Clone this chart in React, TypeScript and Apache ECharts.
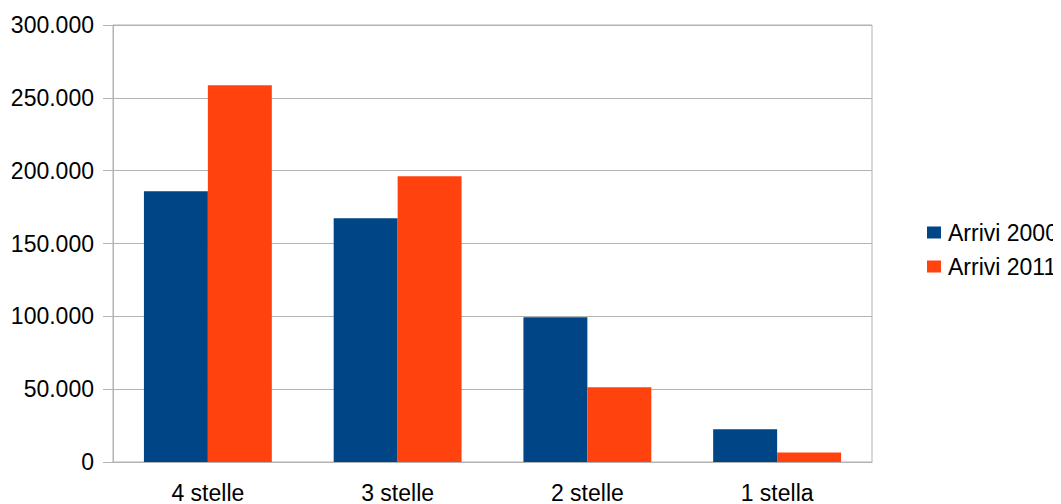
import React, { useEffect, useRef } from "react";
import * as echarts from "echarts";

const categories = ["4 stelle", "3 stelle", "2 stelle", "1 stella"];
const arrivi2000 = [185800, 167300, 99300, 22400];
const arrivi2011 = [258600, 196100, 51300, 6600];
const seriesNames = ["Arrivi 2000", "Arrivi 2011"];

const fmt = (v: number) =>
  String(Math.round(v)).replace(/\B(?=(\d{3})+(?!\d))/g, ".");

export default function App() {
  const ref = useRef<HTMLDivElement>(null);
  useEffect(() => {
    if (!ref.current) return;
    const chart = echarts.init(ref.current, null, { renderer: "svg" });
    const font = "'Liberation Sans', Arial, sans-serif";
    chart.setOption({
      animation: false,
      textStyle: { fontFamily: font },
      grid: {
        left: 113,
        right: 189,
        top: 25,
        bottom: 41,
        show: true,
        borderColor: "#b3b3b3",
        borderWidth: 1,
      },
      legend: {
        orient: "vertical",
        left: 927,
        top: 221,
        padding: 0,
        itemWidth: 14,
        itemHeight: 12,
        itemGap: 11,
        icon: "rect",
        textStyle: { fontSize: 23, color: "#000", fontFamily: font, padding: [0, 0, 0, 2] },
        data: seriesNames,
      },
      xAxis: {
        type: "category",
        data: categories,
        axisLine: { lineStyle: { color: "#b3b3b3" } },
        axisTick: { length: 9, lineStyle: { color: "#b3b3b3" } },
        axisLabel: { fontSize: 23, color: "#000", margin: 19, fontFamily: font },
      },
      yAxis: {
        type: "value",
        min: 0,
        max: 300000,
        interval: 50000,
        axisLine: { show: true, lineStyle: { color: "#b3b3b3" } },
        axisTick: { show: true, length: 10, lineStyle: { color: "#b3b3b3" } },
        splitLine: { lineStyle: { color: "#b3b3b3" } },
        axisLabel: {
          fontSize: 23,
          color: "#000",
          margin: 19,
          fontFamily: font,
          formatter: (v: number) => fmt(v),
        },
      },
      series: [
        {
          name: seriesNames[0],
          type: "bar",
          data: arrivi2000,
          itemStyle: { color: "#004586" },
          barGap: "0%",
          barCategoryGap: "32.6%",
        },
        {
          name: seriesNames[1],
          type: "bar",
          data: arrivi2011,
          itemStyle: { color: "#ff420e" },
          barGap: "0%",
          barCategoryGap: "32.6%",
        },
      ],
    });
    return () => chart.dispose();
  }, []);
  return <div ref={ref} style={{ width: 1061, height: 504, marginLeft: -8, marginTop: -8 }} />;
}
